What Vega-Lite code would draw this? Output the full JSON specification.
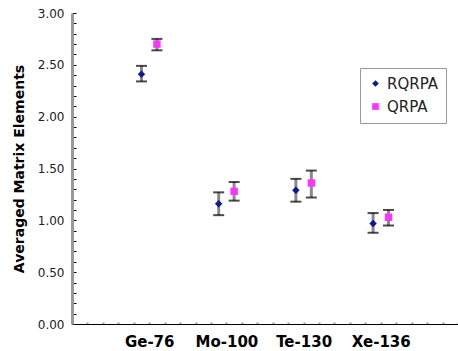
{
  "$schema": "https://vega.github.io/schema/vega-lite/v6.json",
  "autosize": "none",
  "width": 386,
  "height": 311,
  "padding": {"left": 72, "top": 13, "right": 0, "bottom": 27},
  "background": "white",
  "config": {
    "view": {"stroke": null},
    "font": "DejaVu Sans"
  },
  "data": {
    "values": [
      {"nucleus": "Ge-76", "model": "RQRPA", "x": 4.5, "value": 2.41, "lo": 2.34, "hi": 2.49},
      {"nucleus": "Ge-76", "model": "QRPA", "x": 5.5, "value": 2.70, "lo": 2.64, "hi": 2.75},
      {"nucleus": "Mo-100", "model": "RQRPA", "x": 9.5, "value": 1.16, "lo": 1.05, "hi": 1.27},
      {"nucleus": "Mo-100", "model": "QRPA", "x": 10.5, "value": 1.28, "lo": 1.19, "hi": 1.37},
      {"nucleus": "Te-130", "model": "RQRPA", "x": 14.5, "value": 1.29, "lo": 1.18, "hi": 1.40},
      {"nucleus": "Te-130", "model": "QRPA", "x": 15.5, "value": 1.36, "lo": 1.22, "hi": 1.48},
      {"nucleus": "Xe-136", "model": "RQRPA", "x": 19.5, "value": 0.97, "lo": 0.88, "hi": 1.07},
      {"nucleus": "Xe-136", "model": "QRPA", "x": 20.5, "value": 1.03, "lo": 0.95, "hi": 1.10}
    ]
  },
  "encoding": {
    "x": {
      "field": "x", "type": "quantitative",
      "scale": {"domain": [0, 25], "nice": false, "zero": false},
      "axis": {
        "title": null,
        "grid": false,
        "values": [0,1,2,3,4,5,6,7,8,9,10,11,12,13,14,15,16,17,18,19,20,21,22,23,24,25],
        "labelExpr": "datum.value == 5 ? 'Ge-76' : datum.value == 10 ? 'Mo-100' : datum.value == 15 ? 'Te-130' : datum.value == 20 ? 'Xe-136' : ''",
        "labelFont": "DejaVu Sans",
        "labelFontWeight": "bold",
        "labelFontSize": 15,
        "labelColor": "#000",
        "labelPadding": 12,
        "labelFlush": false,
        "labelOverlap": false,
        "domainColor": "#000",
        "domainWidth": 1,
        "tickColor": "#999",
        "tickSize": -2,
        "tickWidth": 2
      }
    },
    "y": {
      "field": "value", "type": "quantitative",
      "scale": {"domain": [0, 3], "nice": false},
      "axis": {
        "title": "Averaged Matrix Elements",
        "titleFont": "DejaVu Sans",
        "titleFontWeight": "bold",
        "titleFontSize": 14,
        "titleColor": "#000",
        "titlePadding": 11,
        "grid": false,
        "values": [0,0.1,0.2,0.3,0.4,0.5,0.6,0.7,0.8,0.9,1,1.1,1.2,1.3,1.4,1.5,1.6,1.7,1.8,1.9,2,2.1,2.2,2.3,2.4,2.5,2.6,2.7,2.8,2.9,3],
        "labelExpr": "round(datum.value * 10) % 5 == 0 ? format(datum.value, '.2f') : ''",
        "labelFont": "DejaVu Sans",
        "labelFontSize": 12,
        "labelColor": "#222",
        "labelPadding": 12,
        "labelOverlap": false,
        "labelFlush": false,
        "domainColor": "#999",
        "domainWidth": 3,
        "tickColor": "#000",
        "tickSize": -4,
        "tickWidth": 1
      }
    }
  },
  "layer": [
    {
      "mark": {"type": "rule", "color": "#8a8a8a", "strokeWidth": 3},
      "encoding": {
        "y": {"field": "lo", "type": "quantitative"},
        "y2": {"field": "hi"}
      }
    },
    {
      "mark": {"type": "tick", "orient": "horizontal", "color": "#000", "size": 11, "thickness": 2},
      "encoding": {"y": {"field": "lo", "type": "quantitative"}}
    },
    {
      "mark": {"type": "tick", "orient": "horizontal", "color": "#000", "size": 11, "thickness": 2},
      "encoding": {"y": {"field": "hi", "type": "quantitative"}}
    },
    {
      "mark": {"type": "point", "filled": true, "opacity": 1},
      "encoding": {
        "color": {
          "field": "model", "type": "nominal",
          "scale": {"domain": ["RQRPA", "QRPA"], "range": ["#0a1a9a", "#ff33ff"]},
          "legend": {
            "title": null,
            "orient": "none",
            "legendX": 288,
            "legendY": 55,
            "strokeColor": "#999",
            "padding": 8,
            "labelFontSize": 15,
            "labelFont": "DejaVu Sans",
            "labelColor": "#222",
            "symbolSize": 45,
            "rowPadding": 7,
            "fillColor": "white"
          }
        },
        "shape": {
          "field": "model", "type": "nominal",
          "scale": {"domain": ["RQRPA", "QRPA"], "range": ["diamond", "square"]},
          "legend": null
        },
        "size": {"value": 55}
      }
    }
  ]
}
